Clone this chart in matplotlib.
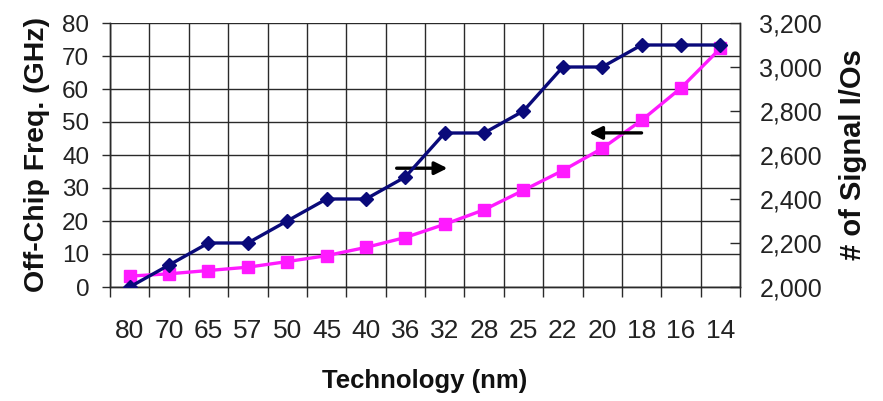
import matplotlib
matplotlib.use("Agg")
import matplotlib.pyplot as plt
from matplotlib import font_manager
from matplotlib.ticker import FuncFormatter, MultipleLocator, FixedLocator
import numpy as np

# ---- data ----
technology = ["80", "70", "65", "57", "50", "45", "40", "36", "32", "28",
              "25", "22", "20", "18", "16", "14"]
offchip_freq = [3.3, 4.0, 5.0, 6.0, 7.7, 9.5, 12.0, 15.0, 19.0, 23.4,
                29.3, 35.3, 42.0, 50.5, 60.3, 72.3]
signal_ios = [2000, 2100, 2200, 2200, 2300, 2400, 2400, 2500, 2700, 2700,
              2800, 3000, 3000, 3100, 3100, 3100]

names = {f.name for f in font_manager.fontManager.ttflist}
base = "Liberation Sans" if "Liberation Sans" in names else "DejaVu Sans"
narrow = "Liberation Sans Narrow" if "Liberation Sans Narrow" in names else base
plt.rcParams["font.family"] = [base, "DejaVu Sans"]

NAVY = "#0a0a7a"
MAGENTA = "#ff1aff"
GRID = "#2a2a2a"

fig = plt.figure(figsize=(8.83, 4.01), dpi=100)
ax = fig.add_axes([110 / 883, (401 - 287) / 401, 630 / 883, 264 / 401])
ax2 = ax.twinx()

x = np.arange(len(technology))

ax.plot(x, offchip_freq, color=MAGENTA, lw=2.4, marker="s", ms=8.5,
        mec=MAGENTA, mfc=MAGENTA, zorder=3)
ax2.plot(x, signal_ios, color=NAVY, lw=2.4, marker="D", ms=7,
         mec=NAVY, mfc=NAVY, zorder=3)

ax.set_xlim(-0.5, len(technology) - 0.5)
ax.set_ylim(0, 80)
ax2.set_ylim(2000, 3200)

# x axis
ax.set_xticks(x)
ax.set_xticklabels(technology, fontfamily=narrow, fontsize=19, color="#222222")
ax.xaxis.set_minor_locator(FixedLocator(np.arange(-0.5, len(technology), 1.0)))
ax.tick_params(axis="x", which="major", length=0, pad=23)
ax.tick_params(axis="x", which="minor", length=7, width=1, color=GRID,
               direction="out")

# left axis
ax.yaxis.set_major_locator(MultipleLocator(10))
ax.tick_params(axis="y", which="major", length=6, width=1, color=GRID,
               direction="out", pad=9, labelsize=17.5, labelcolor="#222222")

# right axis
ax2.yaxis.set_major_locator(MultipleLocator(200))
ax2.yaxis.set_major_formatter(FuncFormatter(lambda v, p: f"{int(v):,}"))
ax2.tick_params(axis="y", which="major", length=7, width=1, color=GRID,
                direction="in", pad=14, labelsize=18, labelcolor="#222222")

# grid
ax.grid(True, which="major", axis="y", color=GRID, lw=1)
ax.grid(True, which="minor", axis="x", color=GRID, lw=1)
ax.set_axisbelow(True)

for a in (ax, ax2):
    a.spines["top"].set_visible(False)
    for s in ("left", "right", "bottom"):
        a.spines[s].set_color(GRID)
        a.spines[s].set_linewidth(1)

ax.set_xlabel("Technology (nm)", fontsize=18.5, fontweight="bold", labelpad=19,
              color="#111111")
ax.set_ylabel("Off-Chip Freq. (GHz)", fontsize=20.5, fontweight="bold",
              labelpad=9, color="#111111")
ax2.set_ylabel("# of Signal I/Os", fontsize=21, fontweight="bold",
               labelpad=12, color="#111111")

# direction arrows (annotation)
ax.annotate("", xy=(8.07, 36), xytext=(6.78, 36),
            arrowprops=dict(arrowstyle="-|>", color="black", lw=2.4,
                            mutation_scale=19, shrinkA=0, shrinkB=0),
            zorder=5)
ax.annotate("", xy=(11.67, 46.7), xytext=(13.0, 46.7),
            arrowprops=dict(arrowstyle="-|>", color="black", lw=2.4,
                            mutation_scale=19, shrinkA=0, shrinkB=0),
            zorder=5)

fig.savefig("out.png", dpi=100)
